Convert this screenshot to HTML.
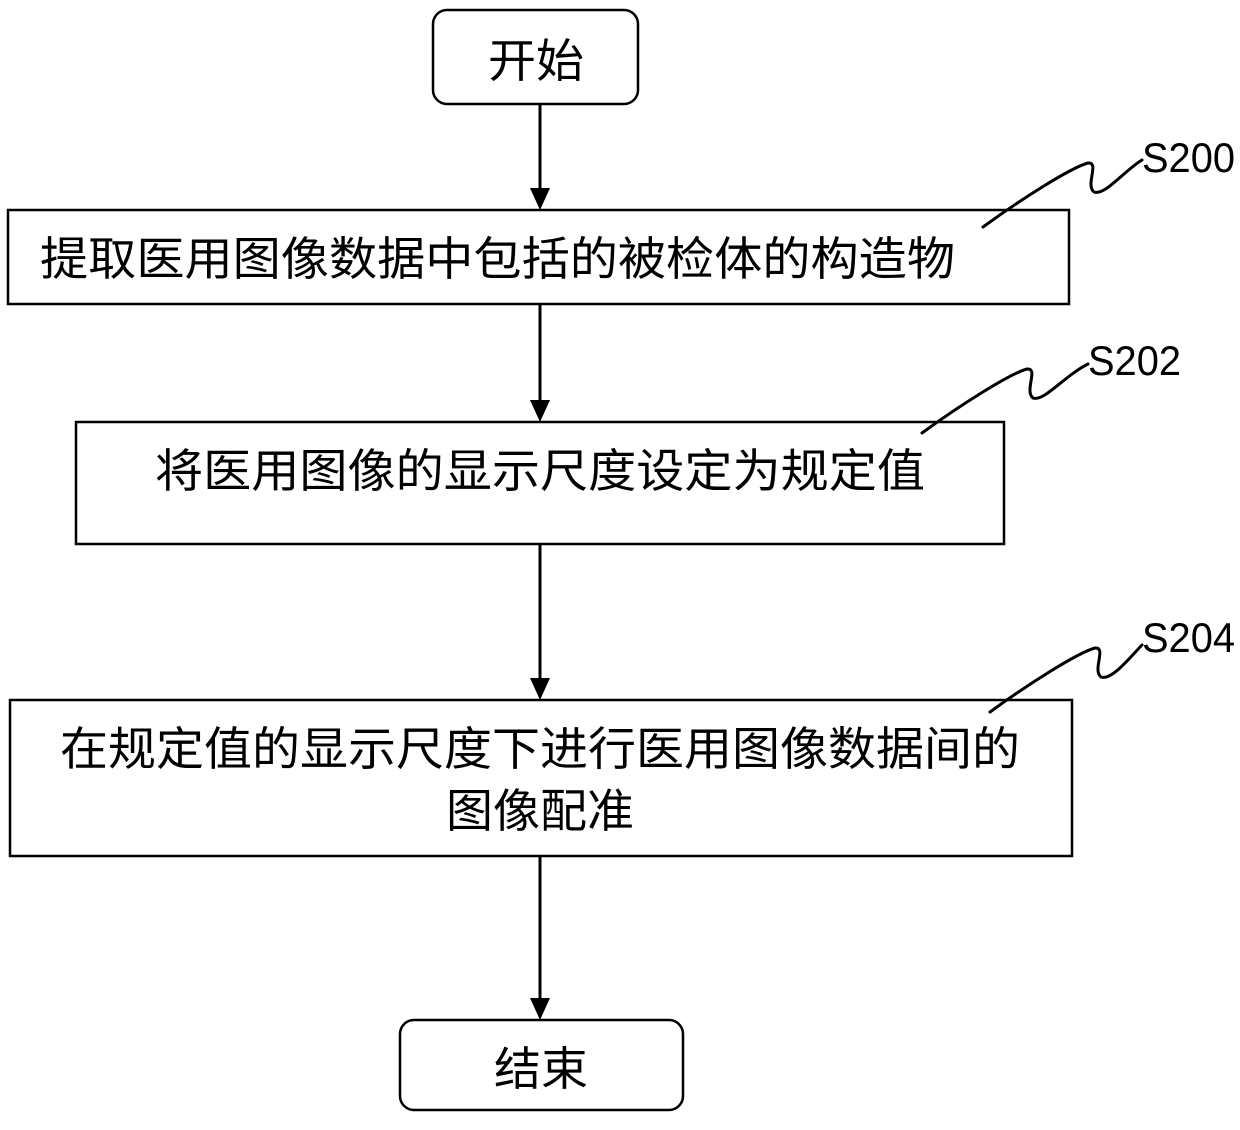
<!DOCTYPE html>
<html><head><meta charset="utf-8"><style>
body{margin:0;background:#fff;}
svg text{font-family:"Liberation Sans","Noto Sans CJK SC",sans-serif;fill:#000;}
</style></head><body>
<svg width="1240" height="1125" viewBox="0 0 1240 1125" xmlns="http://www.w3.org/2000/svg">
<g fill="none" stroke="#000" stroke-width="2.5">
<rect x="433" y="10" width="205" height="94" rx="14"/>
<rect x="8" y="210" width="1061" height="94"/>
<rect x="76" y="422" width="928" height="122"/>
<rect x="10" y="700" width="1062" height="156"/>
<rect x="400" y="1020" width="283" height="90" rx="14"/>
<line x1="540" y1="104" x2="540" y2="190" stroke-width="3"/>
<line x1="540" y1="304" x2="540" y2="402" stroke-width="3"/>
<line x1="540" y1="544" x2="540" y2="680" stroke-width="3"/>
<line x1="540" y1="856" x2="540" y2="1000" stroke-width="3"/>
</g>
<g fill="#000">
<path d="M530,188 L550,188 L540,210 Z"/>
<path d="M530,400 L550,400 L540,422 Z"/>
<path d="M530,678 L550,678 L540,700 Z"/>
<path d="M530,998 L550,998 L540,1020 Z"/>
</g>
<g fill="none" stroke="#000" stroke-width="3" stroke-linecap="round">
<path d="M983,227 C1020,200 1070,168 1088,163 C1100,162 1085,185 1094,192 C1105,196 1125,170 1142,160"/>
<path d="M922,433 C959,406 1009,374 1027,369 C1039,368 1024,391 1033,398 C1044,402 1064,376 1088,364"/>
<path d="M990,712 C1027,685 1077,653 1095,648 C1107,647 1092,670 1101,677 C1112,681 1132,655 1142,645"/>
</g>
<g font-size="46">
<text x="488" y="77" textLength="96" lengthAdjust="spacingAndGlyphs">开始</text>
<text x="40" y="275" textLength="915" lengthAdjust="spacingAndGlyphs">提取医用图像数据中包括的被检体的构造物</text>
<text x="155" y="487" textLength="770" lengthAdjust="spacingAndGlyphs">将医用图像的显示尺度设定为规定值</text>
<text x="60" y="765" textLength="960" lengthAdjust="spacingAndGlyphs">在规定值的显示尺度下进行医用图像数据间的</text>
<text x="446" y="827" textLength="188" lengthAdjust="spacingAndGlyphs">图像配准</text>
<text x="494" y="1085" textLength="94" lengthAdjust="spacingAndGlyphs">结束</text>
</g>
<g font-size="42">
<text x="1142" y="172" textLength="93" lengthAdjust="spacingAndGlyphs">S200</text>
<text x="1088" y="375" textLength="93" lengthAdjust="spacingAndGlyphs">S202</text>
<text x="1142" y="652" textLength="93" lengthAdjust="spacingAndGlyphs">S204</text>
</g>
</svg>
</body></html>
